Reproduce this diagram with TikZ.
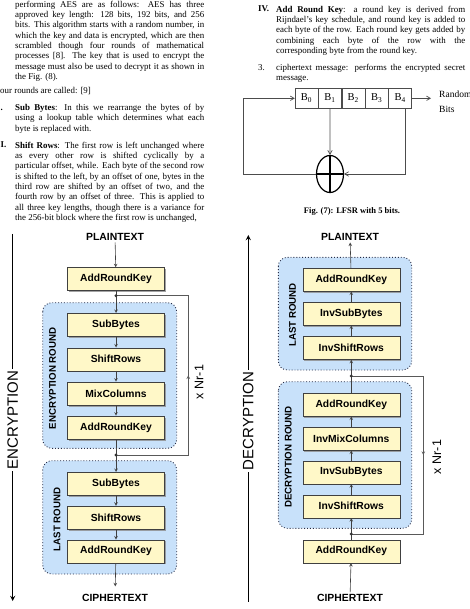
\documentclass[tikz,border=0pt]{standalone}
\usepackage{fontspec}
\setmainfont{Liberation Serif}
\setsansfont{Liberation Sans}
\usepackage{tikz}
\usetikzlibrary{shapes.geometric,arrows,positioning,calc,shadows,decorations.markings}
\definecolor{keyfill}{RGB}{255,248,200}
\definecolor{roundfill}{RGB}{200,225,250}
\definecolor{roundline}{RGB}{40,45,70}
\newcommand{\bodysetup}{\tolerance=9999\relax\hyphenpenalty=10000\relax}

\begin{document}
\begin{tikzpicture}[x=1pt, y=-1pt, >=stealth]
    \tikzset{
        para/.style={anchor=north west, inner sep=0pt, text width=189pt, align=justify, font=\fontsize{8.9}{10.3}\selectfont},
        itemtag/.style={anchor=base west, inner sep=0pt, font=\fontsize{8.9}{10.3}\selectfont},
        stage/.style={draw=black!75, fill=keyfill, rectangle, minimum width=97pt, minimum height=23pt, inner sep=1pt, font=\fontsize{10.3}{12}\selectfont\sffamily\bfseries, drop shadow={shadow xshift=1.6pt, shadow yshift=-1.6pt, fill=black!45, opacity=0.8}},
        roundbox/.style={draw=roundline, fill=roundfill, dotted, line width=0.9pt, rounded corners=9pt},
        roundname/.style={rotate=90, font=\fontsize{9.7}{11}\selectfont\sffamily\bfseries},
        endtext/.style={font=\fontsize{10.4}{12}\selectfont\sffamily\bfseries, inner sep=2pt},
        flow/.style={draw=black!75, ->, line width=0.6pt},
        repeatline/.style={draw=black!65, line width=0.6pt, postaction={decorate, decoration={markings, mark=at position 0.5 with {\arrow{>}}}}},
        dirlabel/.style={rotate=90, font=\fontsize{15}{17}\selectfont\sffamily, inner sep=2pt},
        bigline/.style={draw, line width=1.3pt},
        nrlabel/.style={rotate=90, font=\fontsize{12.5}{14}\selectfont\sffamily},
        cell/.style={draw=black!70, rectangle, minimum width=23pt, minimum height=20pt, inner sep=0pt, font=\fontsize{10.5}{12}\selectfont},
        wire/.style={draw=black!70, line width=0.7pt, -angle 60}
    }
    \useasboundingbox (0,0) rectangle (469,609);

    % Left column text
    \node[para] (intro) at (15,-0.2) {\bodysetup\strut performing AES are as follows: AES has three\linebreak
        approved key length: 128 bits, 192 bits, and 256\linebreak
        bits. This algorithm starts with a random number, in\linebreak
        which the key and data is encrypted, which are then\linebreak
        scrambled though four rounds of mathematical\linebreak
        processes [8]. The key that is used to encrypt the\linebreak
        message must also be used to decrypt it as shown in\linebreak
        the Fig. (8).};
    \node[itemtag] (fourrounds) at (0,94) {our rounds are called: [9]};
    \node[itemtag, font=\fontsize{8.9}{10.3}\selectfont\bfseries] (tagone) at (0.5,110.3) {.};
    \node[para] (subbytes) at (15,103.1) {\bodysetup\strut\textbf{Sub Bytes}: In this we rearrange the bytes of by\linebreak
        using a lookup table which determines what each\linebreak
        byte is replaced with.};
    \node[itemtag, font=\fontsize{8.9}{10.3}\selectfont\bfseries] (tagtwo) at (0.5,148) {I.};
    \node[para] (shiftrows) at (15,140.8) {\bodysetup\parfillskip=0pt\relax\strut\textbf{Shift Rows}: The first row is left unchanged where\linebreak
        as every other row is shifted cyclically by a\linebreak
        particular offset, while. Each byte of the second row\linebreak
        is shifted to the left, by an offset of one, bytes in the\linebreak
        third row are shifted by an offset of two, and the\linebreak
        fourth row by an offset of three. This is applied to\linebreak
        all three key lengths, though there is a variance for\linebreak
        the 256-bit block where the first row is unchanged,};

    % Right column text
    \node[itemtag, font=\fontsize{8.9}{10.3}\selectfont\bfseries] (tagfour) at (258,12) {IV.};
    \node[para] (addkey) at (276,4.8) {\bodysetup\strut\textbf{Add Round Key}: a round key is derived from\linebreak
        Rijndael’s key schedule, and round key is added to\linebreak
        each byte of the row. Each round key gets added by\linebreak
        combining each byte of the row with the\linebreak
        corresponding byte from the round key.};
    \node[itemtag] (tagthree) at (258,70.3) {3.};
    \node[para] (cipher) at (276,63.1) {\bodysetup\strut ciphertext message: performs the encrypted secret\linebreak
        message.};

    % LFSR
    \node[cell] (b0) at (306.5,98.3) {B\textsubscript{0}};
    \node[cell, right=0pt of b0] (b1) {B\textsubscript{1}};
    \node[cell, right=0pt of b1] (b2) {B\textsubscript{2}};
    \node[cell, right=0pt of b2] (b3) {B\textsubscript{3}};
    \node[cell, right=0pt of b3] (b4) {B\textsubscript{4}};
    \node[ellipse, draw, line width=1.2pt, minimum width=27pt, minimum height=37pt, inner sep=0pt] (xor) at (330,174) {};
    \draw[line width=1.2pt] (xor.north) -- (xor.south) (xor.west) -- (xor.east);
    \coordinate (lfl) at (243.3,98.3);
    \draw[wire] (b1.south) -- (xor.north);
    \draw[wire] ($(b4.south)+(5,0)$) |- (xor.east);
    \draw[wire] (xor.west) -| (lfl) -- (b0.west);
    \node[anchor=north west, inner sep=0pt, align=left, font=\fontsize{9.5}{15}\selectfont] (rnd) at (439,91) {Random\\Bits};
    \draw[wire, shorten >=8pt] (b4.east) -- (b4.east -| rnd.west);
    \node[font=\fontsize{8.5}{10}\selectfont\bfseries] (fig7) at (352,211.7) {Fig. (7): LFSR with 5 bits.};

    % Encryption
    \draw[roundbox] (42.7,302.7) rectangle (176.7,448.3);
    \draw[roundbox] (42.7,460.7) rectangle (176.7,574);
    \node[roundname] (encround) at (52.5,378.3) {ENCRYPTION ROUND};
    \node[roundname] (elast) at (57,519.5) {LAST ROUND};
    \node[endtext] (ept) at (115,236.7) {PLAINTEXT};
    \node[stage] (eark0) at (116,279) {AddRoundKey};
    \node[stage] (esub1) at (116,324.7) {SubBytes};
    \node[stage] (eshift1) at (116,359.2) {ShiftRows};
    \node[stage] (emix) at (116,393.4) {MixColumns};
    \node[stage] (eark1) at (116,427.4) {AddRoundKey};
    \node[stage] (esub2) at (116,483.7) {SubBytes};
    \node[stage] (eshift2) at (116,517.5) {ShiftRows};
    \node[stage] (eark2) at (116,551.3) {AddRoundKey};
    \node[endtext] (ect) at (115,598.3) {CIPHERTEXT};
    \coordinate (edot1) at (116,295.7);
    \coordinate (edot2) at (116,455);
    \coordinate (eloop) at (188.3,375);
    \foreach \a/\b in {ept/eark0, eark0/esub1, esub1/eshift1, eshift1/emix, emix/eark1, eark1/esub2, esub2/eshift2, eshift2/eark2}
        \draw[flow] (\a) -- (\b);
    \draw[flow, shorten >=6pt] (eark2) -- (ect);
    \draw[repeatline] (edot2) -| (eloop) |- (edot1);
    \fill[black!80] (edot1) circle (1.6pt) (edot2) circle (1.6pt);
    \node[nrlabel] (enr) at (199,382) {x Nr-1};
    \coordinate (etop) at (12.7,234);
    \coordinate (ebot) at (12.7,601);
    \node[dirlabel] (enclbl) at (12.7,420) {ENCRYPTION};
    \draw[bigline] (etop) -- (enclbl);
    \draw[bigline, ->] (enclbl) -- (ebot);

    % Decryption
    \draw[roundbox] (278.3,257.3) rectangle (411.7,370);
    \draw[roundbox] (278.3,381.7) rectangle (411.7,528.3);
    \node[roundname] (dlast) at (292.5,315) {LAST ROUND};
    \node[roundname] (decround) at (288.3,457) {DECRYPTION ROUND};
    \node[endtext] (dpt) at (350,236.7) {PLAINTEXT};
    \node[stage] (dark2) at (351.3,279.7) {AddRoundKey};
    \node[stage] (dsub2) at (351.3,313.7) {InvSubBytes};
    \node[stage] (dshift2) at (351.3,348) {InvShiftRows};
    \node[stage] (dark1) at (351.3,404.7) {AddRoundKey};
    \node[stage] (dmix) at (351.3,438.7) {InvMixColumns};
    \node[stage] (dsub1) at (351.3,472.2) {InvSubBytes};
    \node[stage] (dshift1) at (351.3,506.3) {InvShiftRows};
    \node[stage] (dark0) at (351.3,551.3) {AddRoundKey};
    \node[endtext] (dct) at (350,598.3) {CIPHERTEXT};
    \coordinate (ddot1) at (351.3,376);
    \coordinate (ddot2) at (351.3,534);
    \coordinate (dloop) at (423.3,455);
    \foreach \a/\b in {dct/dark0, dark0/dshift1, dshift1/dsub1, dsub1/dmix, dmix/dark1, dark1/dshift2, dshift2/dsub2, dsub2/dark2, dark2/dpt}
        \draw[flow] (\a) -- (\b);
    \draw[repeatline] (ddot1) -| (dloop) |- (ddot2);
    \fill[black!80] (ddot1) circle (1.6pt) (ddot2) circle (1.6pt);
    \node[nrlabel] (dnr) at (436.7,457) {x Nr-1};
    \coordinate (dtop) at (248.3,235);
    \coordinate (dbot) at (248.3,601.7);
    \node[dirlabel] (declbl) at (248.3,421) {DECRYPTION};
    \draw[bigline, ->] (declbl) -- (dtop);
    \draw[bigline] (dbot) -- (declbl);
\end{tikzpicture}
\end{document}
